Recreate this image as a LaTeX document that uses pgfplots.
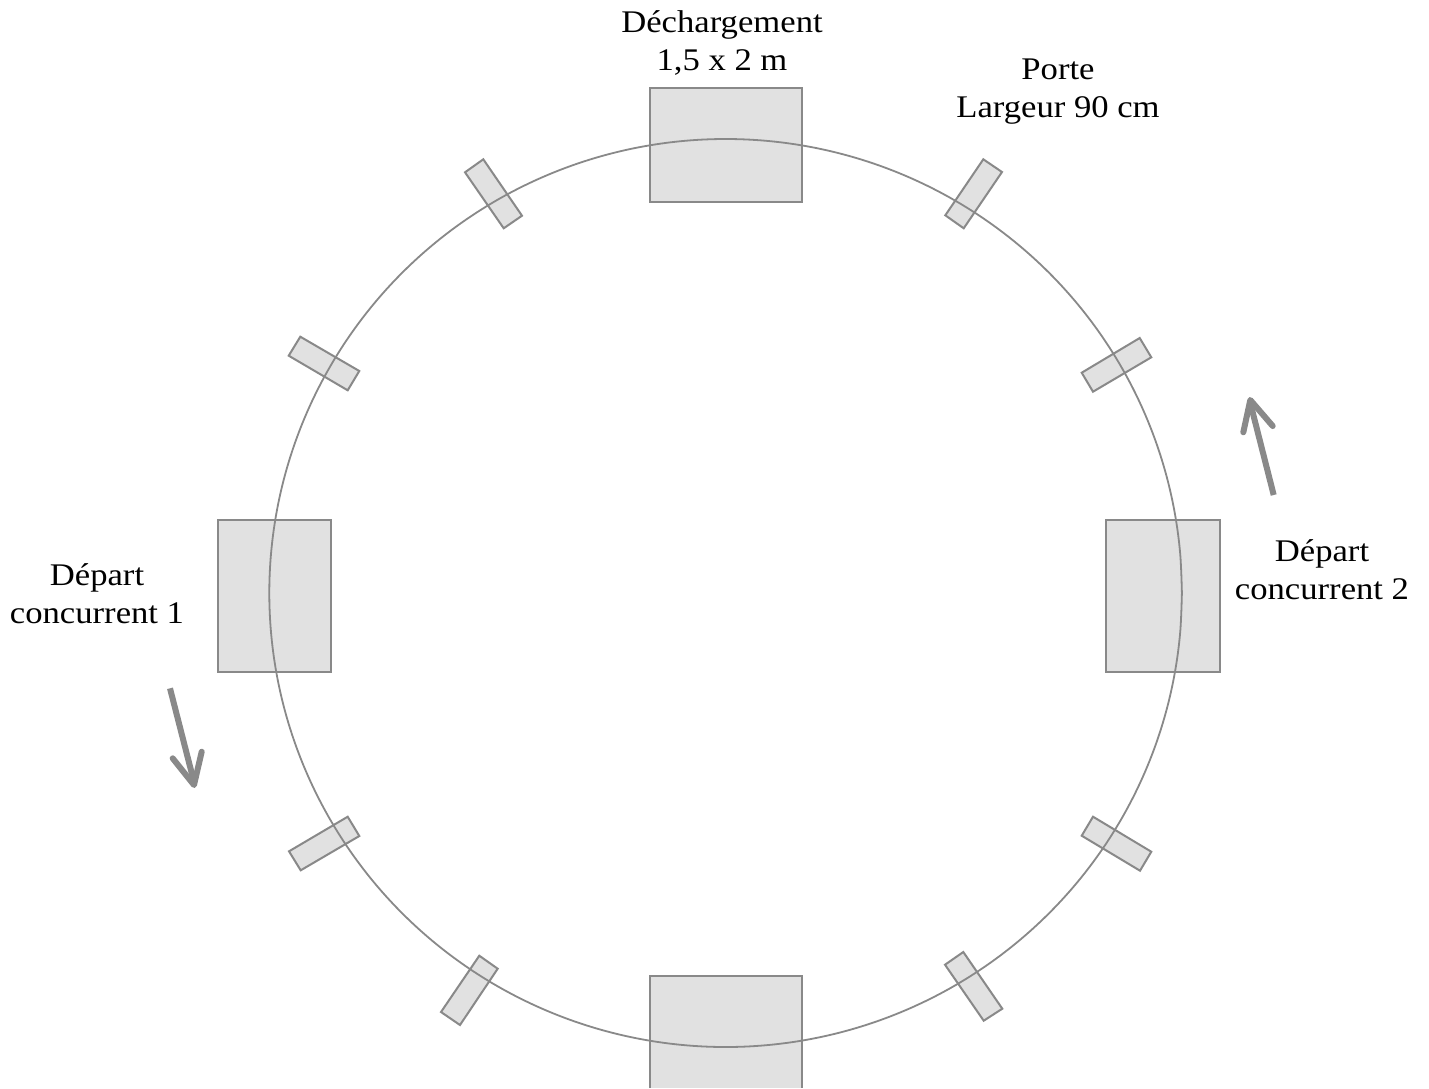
\documentclass[border=0pt]{standalone}
\usepackage{fontspec}
\setmainfont[FakeStretch=1.1]{Liberation Serif}
\usepackage{pgfplots}
\usepackage{pgfplotstable}
\pgfplotsset{compat=1.18}

\definecolor{boxfill}{HTML}{E1E1E1}
\definecolor{boxline}{HTML}{898989}

\tikzset{
    box/.style={draw=boxline, fill=boxfill, line width=2pt, line join=miter},
    arrow/.style={draw=boxline, line width=6pt},
    lab/.style={align=center, font=\fontsize{31.5}{38}\selectfont, text=black},
}

% circle, offsets from its centre (725.6,593), every 5 degrees
\pgfplotstableread{
u v
456.30 0
454.56 39.57
449.37 78.84
440.76 117.50
428.78 155.28
413.55 191.87
395.17 227.00
373.78 260.40
349.55 291.83
322.65 321.03
293.31 347.78
261.73 371.89
228.15 393.18
192.84 411.46
156.06 426.62
118.10 438.53
79.24 447.10
39.77 452.27
0 454
-39.77 452.27
-79.24 447.10
-118.10 438.53
-156.06 426.62
-192.84 411.46
-228.15 393.18
-261.73 371.89
-293.31 347.78
-322.65 321.03
-349.55 291.83
-373.78 260.40
-395.17 227.00
-413.55 191.87
-428.78 155.28
-440.76 117.50
-449.37 78.84
-454.56 39.57
-456.30 0
-454.56 -39.57
-449.37 -78.84
-440.76 -117.50
-428.78 -155.28
-413.55 -191.87
-395.17 -227.00
-373.78 -260.40
-349.55 -291.83
-322.65 -321.03
-293.31 -347.78
-261.73 -371.89
-228.15 -393.18
-192.84 -411.46
-156.06 -426.62
-118.10 -438.53
-79.24 -447.10
-39.77 -452.27
0 -454
39.77 -452.27
79.24 -447.10
118.10 -438.53
156.06 -426.62
192.84 -411.46
228.15 -393.18
261.73 -371.89
293.31 -347.78
322.65 -321.03
349.55 -291.83
373.78 -260.40
395.17 -227.00
413.55 -191.87
428.78 -155.28
440.76 -117.50
449.37 -78.84
454.56 -39.57
456.30 0
}\circletable

\begin{document}
\begin{tikzpicture}
\begin{axis}[
    scale only axis,
    width=1429pt,
    height=1088pt,
    xmin=0, xmax=1429,
    ymin=0, ymax=1088,
    y dir=reverse,
    hide axis,
    clip=true,
    every axis plot/.append style={no markers},
]

% large areas
\addplot[box] coordinates {(650,88) (801.5,88) (801.5,201.7) (650,201.7)} --cycle;
\addplot[box] coordinates {(217.7,520.3) (331.3,520.3) (331.3,671.7) (217.7,671.7)} --cycle;
\addplot[box] coordinates {(1106,520.3) (1220,520.3) (1220,671.7) (1106,671.7)} --cycle;
\addplot[box] coordinates {(650,1088) (650,976) (801.5,976) (801.5,1088)};

% doors
\addplot[box] coordinates {(983.3,159.3) (1002,172) (963.7,228.3) (945.3,215.3)} --cycle;
\addplot[box] coordinates {(1139.7,338) (1151.3,357.3) (1093,391.7) (1081.7,372.7)} --cycle;
\addplot[box] coordinates {(483.3,159.3) (465,172.3) (503.7,228.3) (522,215.7)} --cycle;
\addplot[box] coordinates {(300.3,336.7) (288.7,355.7) (347.7,390.3) (359.3,371)} --cycle;
\addplot[box] coordinates {(347.7,816.7) (359.3,836) (300.7,870.3) (289,851.3)} --cycle;
\addplot[box] coordinates {(479.3,955.7) (497.7,968.7) (460,1025) (441,1012)} --cycle;
\addplot[box] coordinates {(963.3,952) (945,964.7) (983.7,1020.7) (1002.3,1008.7)} --cycle;
\addplot[box] coordinates {(1093,816.7) (1081.7,835.7) (1140,870.7) (1151.3,851.7)} --cycle;

% ring
\addplot[draw=boxline, line width=1.8pt, smooth, tension=0.6] table[x expr=725.6+\thisrow{u}, y expr=593+\thisrow{v}] {\circletable};

% direction arrows
\addplot[arrow, line cap=butt] coordinates {(170,688.3) (194,782)};
\addplot[arrow, line cap=round, line join=round] coordinates {(172.7,758.3) (194,785) (201.7,751.7)};
\addplot[arrow, line cap=butt] coordinates {(1273.7,495) (1250.3,403)};
\addplot[arrow, line cap=round, line join=round] coordinates {(1243.3,432.3) (1250.3,400) (1272.7,426)};

\node[lab] at (axis cs:722,43) {Déchargement\\1,5 x 2 m};
\node[lab] at (axis cs:1058,92) {Porte\\Largeur 90 cm};
\node[lab] at (axis cs:97,593.5) {Départ\\concurrent 1};
\node[lab] at (axis cs:1322,569.5) {Départ\\concurrent 2};
\end{axis}
% hide axis leaves no frame, so fix the page to the axis rectangle
\pgfresetboundingbox
\path[use as bounding box] (current axis.south west) rectangle (current axis.north east);
\end{tikzpicture}
\end{document}
